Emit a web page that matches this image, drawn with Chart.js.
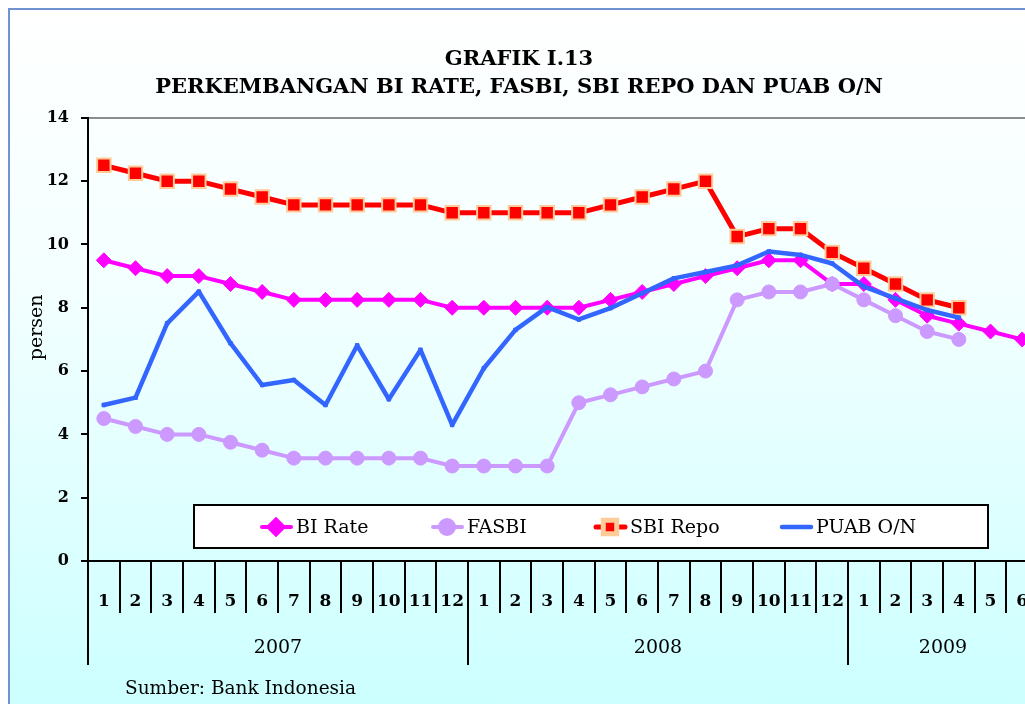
<!DOCTYPE html>
<html>
<head>
<meta charset="utf-8">
<script src="https://cdn.jsdelivr.net/npm/chart.js@4.4.1/dist/chart.umd.min.js"></script>
<style>
  html, body { margin: 0; padding: 0; background: #fff; overflow: hidden; width: 1025px; height: 704px; }
  #frame { position: absolute; left: 8px; top: 8px; width: 1100px; height: 696px;
    border-left: 2px solid #6f93d0; border-top: 2px solid #6f93d0;
    background: linear-gradient(to bottom, #ffffff 0%, #f3ffff 40%, #ccffff 100%); }
  #chart { position: absolute; left: 0; top: 0; }
  #source { position: absolute; left: 125px; top: 677px; font: 18.5px "DejaVu Serif"; color: #000; }
</style>
</head>
<body>
<div id="frame"></div>
<canvas id="chart" width="1038" height="704"></canvas>
<div id="source">Sumber: Bank Indonesia</div>
<script>
// months shown on the axis: 2007 (12), 2008 (12), 2009 (Jan-Jun)
const months = ['1','2','3','4','5','6','7','8','9','10','11','12',
                '1','2','3','4','5','6','7','8','9','10','11','12',
                '1','2','3','4','5','6'];
const years = ['2007', '2008', '2009'];
const monthsPerYear = [12, 12, 6];

const biRate  = [9.5, 9.25, 9.0, 9.0, 8.75, 8.5, 8.25, 8.25, 8.25, 8.25, 8.25, 8.0,
                 8.0, 8.0, 8.0, 8.0, 8.25, 8.5, 8.75, 9.0, 9.25, 9.5, 9.5, 8.75,
                 8.75, 8.25, 7.75, 7.5, 7.25, 7.0];
const fasbi   = [4.5, 4.25, 4.0, 4.0, 3.75, 3.5, 3.25, 3.25, 3.25, 3.25, 3.25, 3.0,
                 3.0, 3.0, 3.0, 5.0, 5.25, 5.5, 5.75, 6.0, 8.25, 8.5, 8.5, 8.75,
                 8.25, 7.75, 7.25, 7.0, null, null];
const sbiRepo = [12.5, 12.25, 12.0, 12.0, 11.75, 11.5, 11.25, 11.25, 11.25, 11.25, 11.25, 11.0,
                 11.0, 11.0, 11.0, 11.0, 11.25, 11.5, 11.75, 12.0, 10.25, 10.5, 10.5, 9.75,
                 9.25, 8.75, 8.25, 8.0, null, null];
const puab    = [4.93, 5.16, 7.51, 8.51, 6.88, 5.56, 5.72, 4.93, 6.81, 5.11, 6.67, 4.3,
                 6.09, 7.3, 8.02, 7.63, 7.99, 8.46, 8.93, 9.13, 9.34, 9.78, 9.67, 9.4,
                 8.67, 8.3, 7.93, 7.69, null, null];

// year boundaries and mid points in month units
const yearEdges = [0];
monthsPerYear.forEach(n => yearEdges.push(yearEdges[yearEdges.length - 1] + n));
const yearMids = monthsPerYear.map((n, i) => yearEdges[i] + n / 2);

const serif = '"DejaVu Serif", serif';

const boxLegend = {
  id: 'boxLegend',
  afterDraw(chart) {
    const ctx = chart.ctx;
    ctx.save();
    ctx.fillStyle = '#fff';
    ctx.fillRect(194, 505, 794, 43);
    ctx.lineWidth = 2;
    ctx.strokeStyle = '#000';
    ctx.strokeRect(194, 505, 794, 43);
    const xs = [260, 431, 594, 780];
    const y = 527;
    chart.data.datasets.forEach((ds, i) => {
      const x = xs[i];
      ctx.lineCap = 'round';
      ctx.strokeStyle = ds.borderColor;
      ctx.lineWidth = ds.borderWidth;
      ctx.beginPath();
      ctx.moveTo(x + 2, y);
      ctx.lineTo(x + 31, y);
      ctx.stroke();
      if (ds.legendMarker) {
        ctx.fillStyle = ds.pointBackgroundColor;
        ctx.strokeStyle = ds.pointBorderColor;
        Chart.helpers.drawPoint(ctx, {
          pointStyle: ds.pointStyle, radius: ds.pointRadius,
          borderWidth: ds.pointBorderWidth, rotation: 0
        }, x + 16, y);
      }
      ctx.fillStyle = '#000';
      ctx.font = '19px ' + serif;
      ctx.textBaseline = 'middle';
      ctx.textAlign = 'left';
      ctx.fillText(ds.label, x + 36, y + 1);
    });
    ctx.restore();
  }
};

new Chart(document.getElementById('chart'), {
  type: 'line',
  data: {
    labels: months,
    datasets: [
      { label: 'BI Rate', data: biRate, order: 4, borderColor: '#ff00ff', borderWidth: 4,
        pointStyle: 'rectRot', pointRadius: 7.5, pointBackgroundColor: '#ff00ff',
        pointBorderColor: '#ff00ff', pointBorderWidth: 1, legendMarker: true },
      { label: 'FASBI', data: fasbi, order: 3, borderColor: '#cc99ff', borderWidth: 4,
        pointStyle: 'circle', pointRadius: 7, pointBackgroundColor: '#cc99ff',
        pointBorderColor: '#cc99ff', pointBorderWidth: 1, legendMarker: true },
      { label: 'SBI Repo', data: sbiRepo, order: 2, borderColor: '#ff0000', borderWidth: 5,
        pointStyle: 'rect', pointRadius: 9.5, pointBackgroundColor: '#ff0000',
        pointBorderColor: '#ffcc99', pointBorderWidth: 2, legendMarker: true },
      { label: 'PUAB O/N', data: puab, order: 1, borderColor: '#3366ff', borderWidth: 4.5,
        pointStyle: 'rect', pointRadius: 2.5, pointBackgroundColor: '#3366ff',
        pointBorderColor: '#3366ff', pointBorderWidth: 1, legendMarker: false }
    ]
  },
  options: {
    responsive: false,
    animation: false,
    devicePixelRatio: 1,
    layout: { autoPadding: false, padding: { left: 0, right: 0, top: 0, bottom: 0 } },
    elements: { line: { tension: 0, borderCapStyle: 'round', borderJoinStyle: 'round' } },
    plugins: {
      legend: { display: false },
      tooltip: { enabled: false },
      title: {
        display: true,
        text: ['GRAFIK I.13', 'PERKEMBANGAN BI RATE, FASBI, SBI REPO DAN PUAB O/N'],
        color: '#000',
        font: { family: serif, size: 21, weight: 'bold', lineHeight: 1.33 },
        padding: { top: 46, bottom: 16 }
      }
    },
    scales: {
      y: {
        min: 0, max: 14,
        afterFit: s => { s.width = 88; },
        ticks: { stepSize: 2, color: '#000', padding: 12,
                 font: { family: serif, size: 16, weight: 'bold' } },
        grid: {
          color: c => c.tick && c.tick.value === 14 ? '#8c8c8c' : 'rgba(0,0,0,0)',
          tickColor: '#000', lineWidth: 2, tickLength: 7, drawOnChartArea: true
        },
        border: { color: '#000', width: 2 },
        title: { display: true, text: '    persen', color: '#000',
                 font: { family: serif, size: 19 }, padding: { top: 26, bottom: 0 } }
      },
      x: {
        position: 'bottom',
        offset: true,
        afterFit: s => { s.height = 51; },
        ticks: { color: '#000', padding: -22, autoSkip: false, maxRotation: 0,
                 font: { family: serif, size: 17, weight: 'bold' } },
        grid: { offset: true, drawOnChartArea: false, tickLength: 52, lineWidth: 2,
                color: '#000', tickColor: '#000' },
        border: { color: '#000', width: 2 }
      },
      year: {
        type: 'linear',
        position: 'bottom',
        min: 0, max: months.length,
        afterFit: s => { s.height = 92; },
        afterBuildTicks: s => {
          const vals = yearEdges.concat(yearMids).sort((a, b) => a - b);
          s.ticks = vals.map(v => ({ value: v }));
        },
        ticks: {
          color: '#000', padding: -28, autoSkip: false, maxRotation: 0,
          font: { family: serif, size: 19 },
          callback: v => {
            const i = yearMids.indexOf(v);
            return i >= 0 ? years[i] : '';
          }
        },
        grid: {
          drawOnChartArea: false, tickLength: 53, lineWidth: 2,
          color: c => c.tick && yearEdges.includes(c.tick.value) ? '#000' : 'rgba(0,0,0,0)',
          tickColor: c => c.tick && yearEdges.includes(c.tick.value) ? '#000' : 'rgba(0,0,0,0)'
        },
        border: { display: false }
      }
    }
  },
  plugins: [boxLegend]
});
</script>
</body>
</html>
